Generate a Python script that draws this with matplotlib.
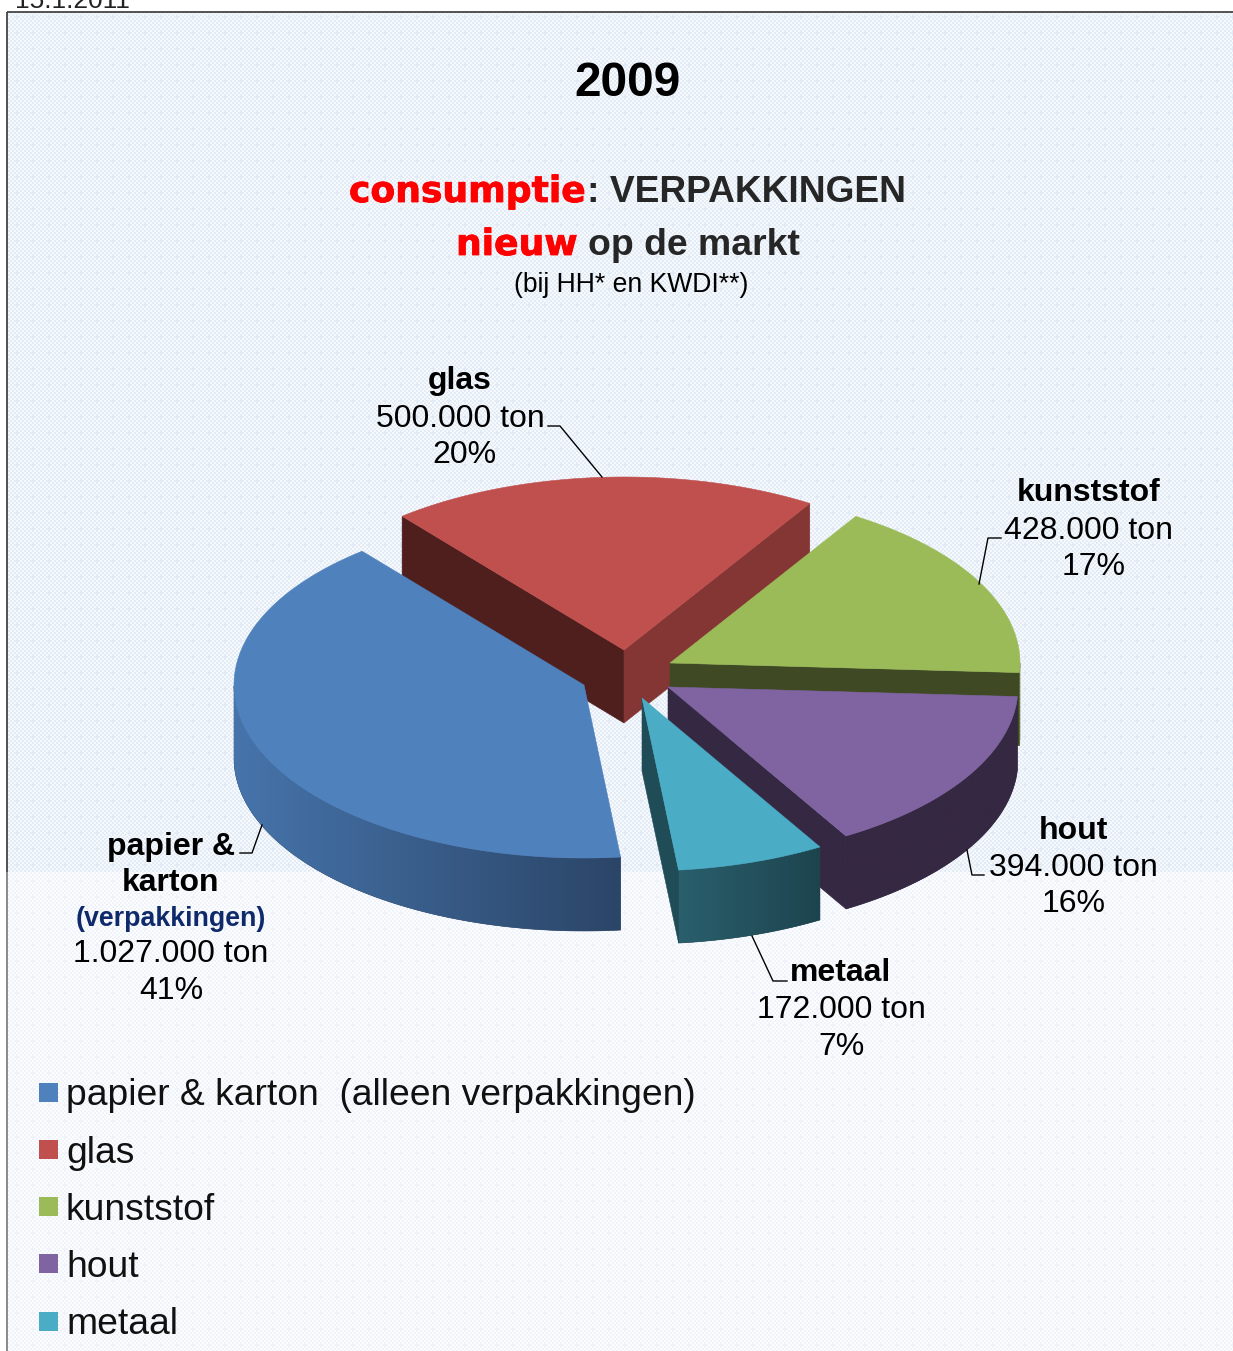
# coding: utf-8

import numpy as np
import matplotlib
matplotlib.use("Agg")
import matplotlib.pyplot as plt
import matplotlib.patheffects as pe
from matplotlib.colors import LinearSegmentedColormap, to_rgb
from matplotlib.patches import Polygon, Rectangle

plt.rcParams["font.family"] = ["Liberation Sans", "DejaVu Sans"]

## Data

names = ["papier & karton", "glas", "kunststof", "hout", "metaal"]
legend_names = ["papier & karton  (alleen verpakkingen)", "glas", "kunststof", "hout", "metaal"]
tons = [1027000, 500000, 428000, 394000, 172000]

## Style and layout (pixels of the 1233x1351 picture)

top_colors = ["#4F81BD", "#C0504D", "#9BBB59", "#8064A2", "#4BACC6"]
wall_left = ["#4674AB", "#843634", "#5E7136", "#352842", "#2A5F6D"]
wall_right = ["#2B4567", "#843634", "#5E7136", "#352842", "#1D444E"]
face_high = ["#2B4567", "#4F1F1D", "#3F4A24", "#352842", "#1F4C57"]
face_low = ["#2B4567", "#843634", "#3F4A24", "#352842", "#1F4C57"]
apex_x = [584, 624, 670, 668, 642]
apex_y = [685, 650, 663, 687, 698]
draw_order = [1, 2, 3, 0, 4]

start_angle = 276.0
rx, ry, depth = 350.0, 173.0, 73.0

fig = plt.figure(figsize=(12.33, 13.51), dpi=100)
ax = fig.add_axes([0, 0, 1, 1])


def background(x0, x1, y0, y1, light, dark):
    xx, yy = np.meshgrid(np.arange(x0, x1), np.arange(y0, y1))
    mask = ((xx // 2 + yy // 2) % 2 == 0) & ((xx % 16 > 1) | (yy % 16 > 1))
    img = np.where(mask[..., None], np.array(to_rgb(light)), np.array(to_rgb(dark)))
    ax.imshow(img, extent=(x0, x1, y1, y0), interpolation="nearest", aspect="auto", zorder=0)


background(8, 1233, 13, 872, "#F7FAFD", "#E3EBF7")
background(8, 1233, 872, 1351, "#FCFDFE", "#F0F4FA")

ax.set_xlim(0, 1233)
ax.set_ylim(1351, 0)
ax.axis("off")

ax.plot([7, 7], [12, 872], color="#333333", lw=1.2, solid_capstyle="butt", zorder=1)
ax.plot([7, 7], [872, 1351], color="#777777", lw=1.2, solid_capstyle="butt", zorder=1)
ax.plot([7, 1233], [12, 12], color="#333333", lw=1.2, solid_capstyle="butt", zorder=1)
ax.text(15, 8, "15.1.2011", fontsize=18.9, ha="left", va="baseline", color="#222222", zorder=1)

## Pie, drawn as extruded wedges

total = float(sum(tons))
sweeps = [360.0 * t / total for t in tons]
highs = start_angle - np.concatenate(([0.0], np.cumsum(sweeps)[:-1]))
lows = highs - np.array(sweeps)


def rim(cx, cy, angles):
    rad = np.radians(angles)
    return cx + rx * np.cos(rad), cy - ry * np.sin(rad)


def shape(points, color, z):
    ax.add_patch(Polygon(points, closed=True, facecolor=color, edgecolor=color, lw=0.4, zorder=z))


z = 2
for i in draw_order:
    cx, cy = apex_x[i], apex_y[i]
    low, high = lows[i], highs[i]

    # the straight cut faces, only when they look towards the viewer
    for angle, normal, col in [(high, high + 90, face_high[i]), (low, low - 90, face_low[i])]:
        if np.sin(np.radians(normal)) < 0:
            ex, ey = rim(cx, cy, angle)
            shape([(cx, cy), (ex, ey), (ex, ey + depth), (cx, cy + depth)], col, z)

    # outer wall with a left to right gradient, clipped to the wall outline
    arc = np.linspace(low, high, 240)
    arc = arc[np.sin(np.radians(arc)) < 0.001]
    if len(arc) > 1:
        wx, wy = rim(cx, cy, arc)
        outline = np.vstack((np.column_stack((wx, wy)), np.column_stack((wx, wy + depth))[::-1]))
        wall = Polygon(outline, closed=True, facecolor=wall_right[i], edgecolor=wall_right[i], lw=0.4, zorder=z)
        ax.add_patch(wall)
        cmap = LinearSegmentedColormap.from_list("wall", [wall_left[i], wall_right[i]])
        im = ax.imshow(np.linspace(0, 1, 256)[None, :], cmap=cmap, aspect="auto", zorder=z,
                       extent=(wx.min(), wx.max(), (wy + depth).max(), wy.min()))
        im.set_clip_path(wall)

    # top of the wedge
    tx, ty = rim(cx, cy, np.linspace(low, high, 200))
    shape(np.vstack(([[cx, cy]], np.column_stack((tx, ty)))), top_colors[i], z)
    z += 1

ax.set_xlim(0, 1233)
ax.set_ylim(1351, 0)

## Titles

ax.text(627.5, 96, "2009", fontsize=34.5, fontweight="bold", ha="center", va="baseline", zorder=20)
red_bold = [pe.withStroke(linewidth=0.6, foreground="#FF0000")]
ax.text(349, 202, "consumptie", fontsize=26, fontweight="bold", family="DejaVu Sans", color="#FF0000",
        va="baseline", path_effects=red_bold, zorder=20)
ax.text(587, 202, ": VERPAKKINGEN", fontsize=26.7, fontweight="bold", color="#262626", va="baseline", zorder=20)
ax.text(456, 255, "nieuw", fontsize=26, fontweight="bold", family="DejaVu Sans", color="#FF0000",
        va="baseline", path_effects=red_bold, zorder=20)
ax.text(588, 255, "op de markt", fontsize=26.9, fontweight="bold", color="#262626", va="baseline", zorder=20)
ax.text(631, 292, "(bij HH* en KWDI**)", fontsize=19.1, ha="center", va="baseline", zorder=20)

## Data labels


def ton_label(value):
    return f"{value:,}".replace(",", ".") + " ton"


def pct_label(value):
    return f"{round(100 * value / total)}%"


def label_lines(lines):
    for x, y, s, kw in lines:
        ax.text(x, y, s, fontsize=kw.get("size", 23), fontweight=kw.get("weight", "normal"),
                color=kw.get("color", "black"), ha="center", va="baseline", zorder=20)


bold = {"weight": "bold"}
label_lines([
    (460, 389, names[1], bold), (460, 427, ton_label(tons[1]), {}), (464, 463, pct_label(tons[1]), {}),
    (1089, 501, names[2], bold), (1089, 539, ton_label(tons[2]), {}), (1094, 575, pct_label(tons[2]), {}),
    (1073, 839, names[3], bold), (1073, 876, ton_label(tons[3]), {}), (1074, 912, pct_label(tons[3]), {}),
    (841, 981, names[4], bold), (841, 1018, ton_label(tons[4]), {}), (841, 1055, pct_label(tons[4]), {}),
    (171, 855, "papier &", bold), (171, 891, "karton", bold),
    (171, 926, "(verpakkingen)", {"weight": "bold", "size": 19.3, "color": "#0F2A6B"}),
    (171, 962, ton_label(tons[0]), {}), (171, 999, pct_label(tons[0]), {}),
])

leaders = [
    ([548, 560, 602], [426, 426, 477]),
    ([1001, 988, 979], [538, 538, 584]),
    ([967, 972, 984], [850, 875, 875]),
    ([752, 773, 787], [936, 981, 981]),
    ([240, 252, 262], [853, 853, 825]),
]
for lx, ly in leaders:
    ax.plot(lx, ly, color="black", lw=1.0, zorder=15)

## Legend

legend_top = [1083, 1140, 1197, 1254, 1312]
legend_base = [1105, 1163, 1220, 1277, 1334]
for i, s in enumerate(legend_names):
    ax.add_patch(Rectangle((39, legend_top[i]), 19, 19, facecolor=top_colors[i], edgecolor="none", zorder=20))
    ax.text(66, legend_base[i], s, fontsize=26.85, ha="left", va="baseline", color="#111111", zorder=20)

fig.savefig("out.png", dpi=100, facecolor="white")
